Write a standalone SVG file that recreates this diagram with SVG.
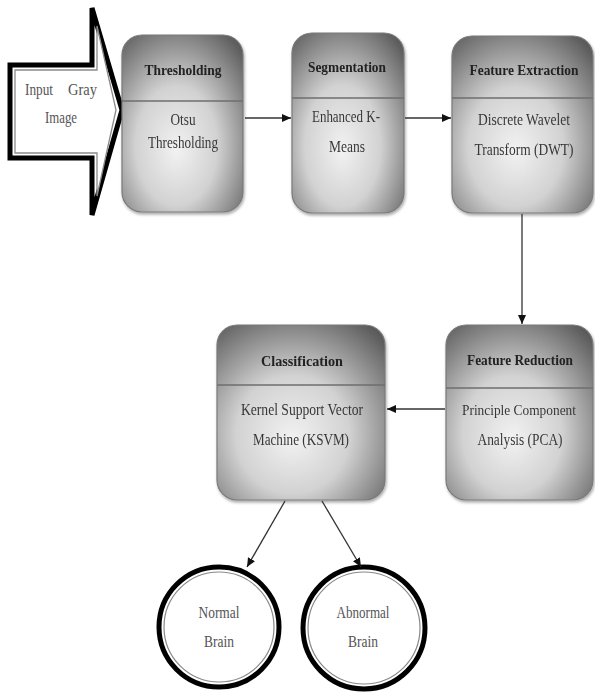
<svg xmlns="http://www.w3.org/2000/svg" width="595" height="700" viewBox="0 0 595 700">
<defs>
<radialGradient id="boxg" cx="0.45" cy="0.6" r="0.75" fx="0.45" fy="0.65">
<stop offset="0" stop-color="#f2f2f2"/>
<stop offset="0.45" stop-color="#d2d2d2"/>
<stop offset="1" stop-color="#5a5a5a"/>
</radialGradient>
<marker id="ah" markerWidth="10" markerHeight="10" refX="9" refY="5" orient="auto" markerUnits="userSpaceOnUse">
<path d="M0,1 L9,5 L0,9 Z" fill="#111"/>
</marker>
<filter id="sh" x="-10%" y="-10%" width="120%" height="120%">
<feGaussianBlur in="SourceAlpha" stdDeviation="1.5"/>
<feOffset dx="1" dy="2" result="b"/>
<feComponentTransfer><feFuncA type="linear" slope="0.35"/></feComponentTransfer>
<feMerge><feMergeNode/><feMergeNode in="SourceGraphic"/></feMerge>
</filter>
</defs>
<style>
.box{fill:url(#boxg);stroke:#7a7a7a;stroke-width:1.2}
.div{stroke:#6e6e6e;stroke-width:1.5}
.title{font-family:"Liberation Serif",serif;font-weight:bold;font-size:15px;fill:#222;text-anchor:middle}
.body{font-family:"Liberation Serif",serif;font-size:16px;fill:#383838;text-anchor:middle}
.lt{fill:#555}
.conn{stroke:#333;stroke-width:1.3;fill:none}
.ring1{fill:#fff;stroke:#000;stroke-width:5}
.ring2{fill:none;stroke:#888;stroke-width:1.2}
</style>
<g id="input">
<polygon points="10,65 92,65 92,8 122,110 92,215 92,158 10,158" fill="#fff" stroke="#000" stroke-width="5" stroke-linejoin="miter"/>
<polygon points="15,70 97,70 97,26 116,110 97,196 97,153 15,153" fill="#fff" stroke="#8a8a8a" stroke-width="1.3"/>
<text class="body lt" x="25" y="95" style="text-anchor:start" textLength="28" lengthAdjust="spacingAndGlyphs">Input</text>
<text class="body lt" x="97" y="95" style="text-anchor:end" textLength="29" lengthAdjust="spacingAndGlyphs">Gray</text>
<text class="body lt" x="61" y="123" textLength="32" lengthAdjust="spacingAndGlyphs">Image</text>
</g>
<g id="thresholding" filter="url(#sh)">
<rect class="box" x="122" y="35" width="121" height="177" rx="20"/>
<line class="div" x1="122" y1="101" x2="243" y2="101"/>
<text class="title" x="183" y="75" textLength="77" lengthAdjust="spacingAndGlyphs">Thresholding</text>
<text class="body" x="183" y="125" textLength="25" lengthAdjust="spacingAndGlyphs">Otsu</text>
<text class="body" x="183" y="148" textLength="70" lengthAdjust="spacingAndGlyphs">Thresholding</text>
</g>
<g id="segmentation" filter="url(#sh)">
<rect class="box" x="292" y="33" width="112" height="180" rx="20"/>
<line class="div" x1="292" y1="98" x2="404" y2="98"/>
<text class="title" x="347" y="72" textLength="78" lengthAdjust="spacingAndGlyphs">Segmentation</text>
<text class="body" x="346" y="122" textLength="68" lengthAdjust="spacingAndGlyphs">Enhanced K-</text>
<text class="body" x="347" y="152" textLength="36" lengthAdjust="spacingAndGlyphs">Means</text>
</g>
<g id="feature-extraction" filter="url(#sh)">
<rect class="box" x="452" y="36" width="141" height="177" rx="20"/>
<line class="div" x1="452" y1="98" x2="593" y2="98"/>
<text class="title" x="524" y="75" textLength="109" lengthAdjust="spacingAndGlyphs">Feature Extraction</text>
<text class="body" x="524" y="125" textLength="92" lengthAdjust="spacingAndGlyphs">Discrete Wavelet</text>
<text class="body" x="524" y="155" textLength="99" lengthAdjust="spacingAndGlyphs">Transform (DWT)</text>
</g>
<g id="feature-reduction" filter="url(#sh)">
<rect class="box" x="446" y="325" width="147" height="175" rx="20"/>
<line class="div" x1="446" y1="388" x2="593" y2="388"/>
<text class="title" x="520" y="365" textLength="106" lengthAdjust="spacingAndGlyphs">Feature Reduction</text>
<text class="body" x="519" y="415" style="font-size:15px" textLength="114" lengthAdjust="spacingAndGlyphs">Principle Component</text>
<text class="body" x="520" y="445" textLength="85" lengthAdjust="spacingAndGlyphs">Analysis (PCA)</text>
</g>
<g id="classification" filter="url(#sh)">
<rect class="box" x="217" y="325" width="168" height="175" rx="20"/>
<line class="div" x1="217" y1="385" x2="385" y2="385"/>
<text class="title" x="302" y="366" textLength="82" lengthAdjust="spacingAndGlyphs">Classification</text>
<text class="body" x="302" y="415" textLength="122" lengthAdjust="spacingAndGlyphs">Kernel Support Vector</text>
<text class="body" x="301" y="445" textLength="96" lengthAdjust="spacingAndGlyphs">Machine (KSVM)</text>
</g>
<g id="normal">
<circle class="ring1" cx="219" cy="627" r="60"/>
<circle class="ring2" cx="219" cy="627" r="55"/>
<text class="body lt" x="219" y="618" textLength="41" lengthAdjust="spacingAndGlyphs">Normal</text>
<text class="body lt" x="219" y="647" textLength="30" lengthAdjust="spacingAndGlyphs">Brain</text>
</g>
<g id="abnormal">
<circle class="ring1" cx="364" cy="628" r="61"/>
<circle class="ring2" cx="364" cy="628" r="56"/>
<text class="body lt" x="363" y="618" textLength="53" lengthAdjust="spacingAndGlyphs">Abnormal</text>
<text class="body lt" x="363" y="647" textLength="30" lengthAdjust="spacingAndGlyphs">Brain</text>
</g>
<g id="connectors">
<line class="conn" x1="245" y1="118" x2="291" y2="118" marker-end="url(#ah)"/>
<line class="conn" x1="405" y1="118" x2="451" y2="118" marker-end="url(#ah)"/>
<line class="conn" x1="522" y1="214" x2="522" y2="324" marker-end="url(#ah)"/>
<line class="conn" x1="445" y1="409" x2="387" y2="409" marker-end="url(#ah)"/>
<line class="conn" x1="285" y1="501" x2="247" y2="567" marker-end="url(#ah)"/>
<line class="conn" x1="322" y1="501" x2="361" y2="567" marker-end="url(#ah)"/>
</g>
</svg>
